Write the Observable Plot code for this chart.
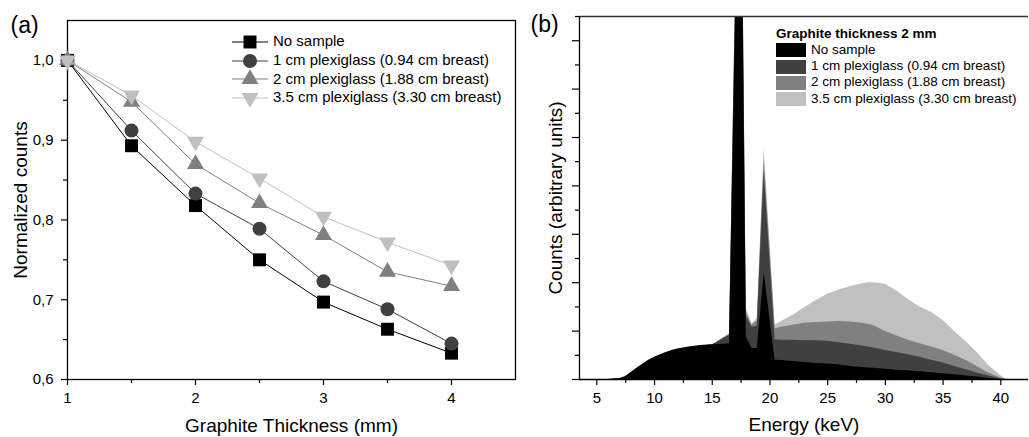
<!DOCTYPE html>
<html>
<head>
<meta charset="utf-8">
<script src="https://cdn.jsdelivr.net/npm/d3@7"></script>
<script src="https://cdn.jsdelivr.net/npm/@observablehq/plot@0.6"></script>
<style>
  html, body { margin: 0; padding: 0; background: #fff; }
  #wrap { position: relative; width: 1029px; height: 437px; overflow: hidden; font-family: "Liberation Sans", Arial, sans-serif; color: #000; }
  .panel { position: absolute; top: 0; }
  .lg { position: absolute; white-space: nowrap; line-height: 1; }
</style>
</head>
<body>
<div id="wrap"></div>
<script>
// ---------- Panel (a) data ----------
const thickness = [1, 1.5, 2, 2.5, 3, 3.5, 4];
const noSample  = [1.000, 0.893, 0.818, 0.750, 0.697, 0.663, 0.633];
const plexi1    = [1.000, 0.912, 0.833, 0.789, 0.723, 0.688, 0.645];
const plexi2    = [1.000, 0.948, 0.870, 0.821, 0.781, 0.735, 0.717];
const plexi35   = [1.000, 0.956, 0.898, 0.852, 0.804, 0.772, 0.743];
const seriesNames = ["No sample", "1 cm plexiglass (0.94 cm breast)", "2 cm plexiglass (1.88 cm breast)", "3.5 cm plexiglass (3.30 cm breast)"];
const seriesColors = ["#000000", "#404040", "#808080", "#c0c0c0"];
const yTicksA = [0.6, 0.7, 0.8, 0.9, 1.0];
const yMinorA = [0.65, 0.75, 0.85, 0.95];
const xTicksA = [1, 2, 3, 4];
const xMinorA = [1.5, 2.5, 3.5];

// ---------- Panel (b) data ----------
const energy    = [6, 7, 7.5, 8, 8.5, 9, 9.5, 10, 10.5, 11, 11.5, 12, 12.5, 13, 14, 15, 15.5, 16, 16.5, 17.45, 17.95, 18.45, 18.9, 19.5, 20.45, 21, 22, 23, 24, 25, 26, 27, 28, 28.5, 29, 30, 31, 32, 33, 34, 35, 36, 37, 38, 39, 40, 40.5];
const specNo    = [0, 0.02, 0.06, 0.15, 0.24, 0.32, 0.40, 0.46, 0.51, 0.56, 0.60, 0.63, 0.65, 0.67, 0.70, 0.72, 0.725, 0.73, 0.74, 13, 0.88, 0.64, 0.64, 2.2, 0.40, 0.39, 0.37, 0.35, 0.33, 0.32, 0.30, 0.27, 0.25, 0.24, 0.23, 0.21, 0.19, 0.18, 0.16, 0.14, 0.12, 0.10, 0.07, 0.05, 0.02, 0.0, 0];
const spec1cm   = [0, 0.01, 0.04, 0.12, 0.20, 0.28, 0.35, 0.41, 0.47, 0.52, 0.56, 0.60, 0.62, 0.65, 0.69, 0.72, 0.78, 0.85, 0.91, 13.5, 1.30, 1.08, 1.10, 4.3, 0.82, 0.81, 0.81, 0.80, 0.80, 0.79, 0.76, 0.73, 0.69, 0.67, 0.65, 0.60, 0.56, 0.51, 0.46, 0.40, 0.34, 0.27, 0.20, 0.13, 0.07, 0.01, 0];
const spec2cm   = [0, 0.01, 0.03, 0.10, 0.18, 0.26, 0.33, 0.39, 0.45, 0.50, 0.54, 0.58, 0.61, 0.64, 0.68, 0.71, 0.78, 0.86, 0.93, 14, 1.40, 1.12, 1.20, 4.55, 1.05, 1.08, 1.12, 1.16, 1.18, 1.19, 1.20, 1.19, 1.16, 1.14, 1.11, 0.99, 0.90, 0.81, 0.74, 0.67, 0.60, 0.50, 0.39, 0.26, 0.13, 0.03, 0];
const spec35cm  = [0, 0.01, 0.03, 0.09, 0.16, 0.24, 0.31, 0.37, 0.43, 0.48, 0.53, 0.57, 0.60, 0.63, 0.67, 0.70, 0.79, 0.87, 0.95, 14, 1.45, 1.15, 1.26, 4.78, 1.12, 1.20, 1.33, 1.48, 1.63, 1.76, 1.85, 1.92, 1.98, 2.00, 2.00, 1.97, 1.83, 1.65, 1.50, 1.39, 1.22, 0.99, 0.78, 0.54, 0.28, 0.08, 0];
const xTicksB = [5, 10, 15, 20, 25, 30, 35, 40];
const xMinorB = [7.5, 12.5, 17.5, 22.5, 27.5, 32.5, 37.5];
const yTicksB = [0, 1, 2, 3, 4, 5, 6, 7];
const yMinorB = [0.5, 1.5, 2.5, 3.5, 4.5, 5.5, 6.5, 7.5];
const xDomainB = [3.5, 42.4];
const yDomainB = [0, 7.5];

const FONT = "'Liberation Sans', Arial, sans-serif";
const comma = d => d.toFixed(1).replace(".", ",");
const blank = () => "";

// custom downward triangle symbol
const triangleDown = {
  draw(context, size) {
    const s = Math.sqrt(size * 4 / Math.sqrt(3));
    const h = s * Math.sqrt(3) / 2;
    context.moveTo(0, h * 2 / 3);
    context.lineTo(s / 2, -h / 3);
    context.lineTo(-s / 2, -h / 3);
    context.closePath();
  }
};
const symbols = [d3.symbolSquare, d3.symbolCircle, d3.symbolTriangle, triangleDown];
const radii = [7.3, 7, 6.3, 6.3];

const seriesA = [noSample, plexi1, plexi2, plexi35];
const wrap = document.getElementById("wrap");

// ---------- Panel (a) ----------
const lineMarks = [];
seriesA.forEach((vals, i) => {
  const data = thickness.map((t, j) => ({t, v: vals[j]}));
  lineMarks.push(Plot.line(data, {x: "t", y: "v", stroke: seriesColors[i], strokeWidth: 1}));
  lineMarks.push(Plot.dot(data, {x: "t", y: "v", fill: seriesColors[i], stroke: "none", symbol: symbols[i], r: radii[i]}));
});

const plotA = Plot.plot({
  width: 520, height: 437,
  marginLeft: 67, marginRight: 5, marginTop: 20, marginBottom: 58,
  x: {domain: [1, 4.5]},
  y: {domain: [0.6, 1.05]},
  style: {fontFamily: FONT, fontSize: "15px", color: "#000", background: "transparent", overflow: "visible"},
  marks: [
    Plot.axisX({ticks: xTicksA, tickSize: 6, tickPadding: 7, tickFormat: d => String(d), label: null, fontSize: 15, strokeWidth: 1.2}),
    Plot.axisX({ticks: xMinorA, tickSize: 4, tickFormat: blank, label: null, strokeWidth: 1.2}),
    Plot.axisY({ticks: yTicksA, tickSize: 6, tickPadding: 8, tickFormat: comma, label: null, fontSize: 15, strokeWidth: 1.2}),
    Plot.axisY({ticks: yMinorA, tickSize: 4, tickFormat: blank, label: null, strokeWidth: 1.2}),
    Plot.frame({stroke: "#000", strokeWidth: 1.3}),
    ...lineMarks,
    Plot.text(["Graphite Thickness (mm)"], {text: d => d, frameAnchor: "bottom", dy: 46, fontSize: 19, textAnchor: "middle", lineAnchor: "middle"}),
    Plot.text(["Normalized counts"], {text: d => d, frameAnchor: "left", dx: -47, rotate: -90, fontSize: 19, textAnchor: "middle", lineAnchor: "middle"}),
    Plot.text(["(a)"], {text: d => d, frameAnchor: "top-left", textAnchor: "start", lineAnchor: "middle", dx: -57, dy: 5, fontSize: 23})
  ]
});
plotA.classList.add("panel");
plotA.style.left = "0px";
wrap.appendChild(plotA);

// ---------- Panel (b) ----------
const specs = [specNo, spec1cm, spec2cm, spec35cm];
const areaMarks = [];
for (let i = specs.length - 1; i >= 0; i--) {
  const data = energy.map((e, j) => ({e, v: specs[i][j]}));
  areaMarks.push(Plot.areaY(data, {x: "e", y: "v", fill: seriesColors[i], clip: true, curve: "linear"}));
}

const plotB = Plot.plot({
  width: 509, height: 437,
  marginLeft: 59, marginRight: 1, marginTop: 16, marginBottom: 58,
  x: {domain: xDomainB},
  y: {domain: yDomainB},
  style: {fontFamily: FONT, fontSize: "15px", color: "#000", background: "transparent", overflow: "visible"},
  marks: [
    ...areaMarks,
    Plot.axisX({ticks: xTicksB, tickSize: 6, tickPadding: 7, tickFormat: d => String(d), label: null, fontSize: 15, strokeWidth: 1.2}),
    Plot.axisX({ticks: xMinorB, tickSize: 4, tickFormat: blank, label: null, strokeWidth: 1.2}),
    Plot.axisY({ticks: yTicksB, tickSize: 7, tickFormat: blank, label: null, strokeWidth: 1.2}),
    Plot.axisY({ticks: yMinorB, tickSize: 4, tickFormat: blank, label: null, strokeWidth: 1.2}),
    Plot.ruleY([yDomainB[0]], {stroke: "#000", strokeWidth: 1.3}),
    Plot.ruleY([yDomainB[1]], {stroke: "#333", strokeWidth: 1.6}),
    Plot.ruleX([xDomainB[0]], {stroke: "#000", strokeWidth: 1.3}),
    Plot.text(["Energy (keV)"], {text: d => d, frameAnchor: "bottom", dy: 45, fontSize: 19, textAnchor: "middle", lineAnchor: "middle"}),
    Plot.text(["Counts (arbitrary units)"], {text: d => d, frameAnchor: "left", dx: -24, rotate: -90, fontSize: 19, textAnchor: "middle", lineAnchor: "middle"}),
    Plot.text(["(b)"], {text: d => d, frameAnchor: "top-left", textAnchor: "start", lineAnchor: "middle", dx: -49, dy: 8, fontSize: 23})
  ]
});
plotB.classList.add("panel");
plotB.style.left = "520px";
wrap.appendChild(plotB);

// ---------- Legend (a) ----------
const rowsA = [41.5, 60.5, 79, 97.5];
seriesNames.forEach((name, i) => {
  const ns = "http://www.w3.org/2000/svg";
  const svg = document.createElementNS(ns, "svg");
  svg.setAttribute("width", 36); svg.setAttribute("height", 20);
  svg.style.position = "absolute"; svg.style.left = "232px"; svg.style.top = (rowsA[i] - 10) + "px";
  const ln = document.createElementNS(ns, "line");
  ln.setAttribute("x1", 0); ln.setAttribute("x2", 36); ln.setAttribute("y1", 10); ln.setAttribute("y2", 10);
  ln.setAttribute("stroke", seriesColors[i]); ln.setAttribute("stroke-width", 1);
  svg.appendChild(ln);
  const p = document.createElementNS(ns, "path");
  p.setAttribute("d", d3.symbol(symbols[i], Math.PI * radii[i] * radii[i])());
  p.setAttribute("transform", "translate(18,10)");
  p.setAttribute("fill", seriesColors[i]);
  svg.appendChild(p);
  wrap.appendChild(svg);
  const t = document.createElement("div");
  t.className = "lg"; t.textContent = name;
  t.style.left = "273px"; t.style.top = (rowsA[i] - 8.5) + "px"; t.style.fontSize = "15px";
  wrap.appendChild(t);
});

// ---------- Legend (b) ----------
const title = document.createElement("div");
title.className = "lg"; title.textContent = "Graphite thickness 2 mm";
title.style.left = "776px"; title.style.top = "27px"; title.style.fontSize = "13.5px"; title.style.fontWeight = "bold";
wrap.appendChild(title);
const rowsB = [50.3, 66.5, 82.7, 99.3];
seriesNames.forEach((name, i) => {
  const sw = document.createElement("div");
  sw.style.position = "absolute"; sw.style.left = "776px"; sw.style.top = (rowsB[i] - 7) + "px";
  sw.style.width = "30px"; sw.style.height = "14px"; sw.style.background = seriesColors[i];
  wrap.appendChild(sw);
  const t = document.createElement("div");
  t.className = "lg"; t.textContent = name;
  t.style.left = "811px"; t.style.top = (rowsB[i] - 7.5) + "px"; t.style.fontSize = "13.5px";
  wrap.appendChild(t);
});
</script>
</body>
</html>
